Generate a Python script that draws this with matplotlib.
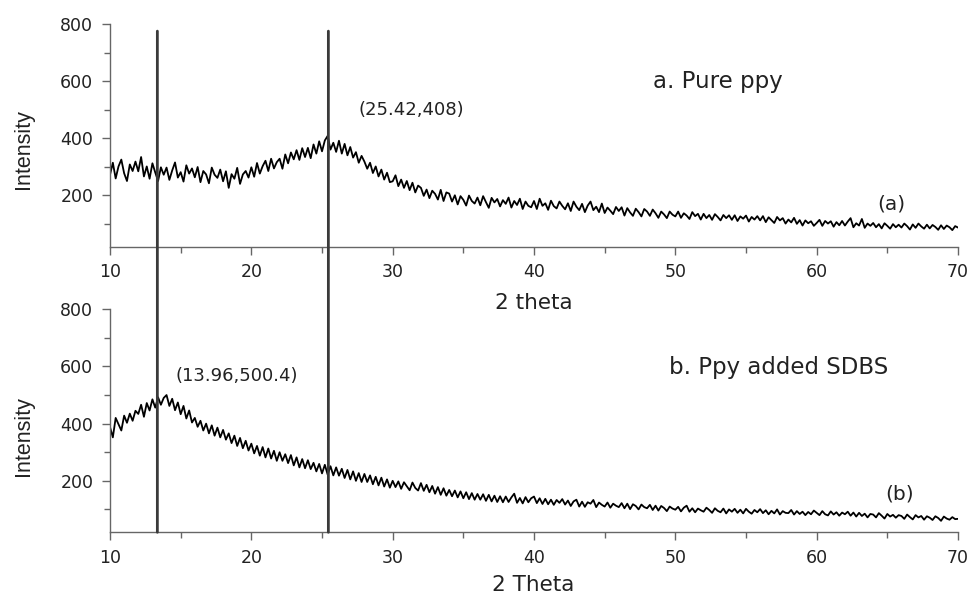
import numpy as np
import matplotlib
matplotlib.use("Agg")
import matplotlib.pyplot as plt
from matplotlib.patches import ConnectionPatch
from matplotlib.ticker import MultipleLocator

# 2-theta grid (0.2 deg steps from 10 to 70)
two_theta = np.linspace(10, 70, 301)

# (a) Pure ppy intensities
intensity_a = [
    272, 314, 259, 301, 325, 277, 250, 308, 285, 318,
    284, 334, 266, 301, 258, 312, 280, 250, 298, 272,
    297, 254, 287, 315, 262, 281, 248, 305, 276, 294,
    263, 299, 246, 285, 273, 242, 297, 272, 261, 290,
    249, 284, 226, 274, 258, 296, 240, 273, 285, 262,
    298, 265, 313, 276, 302, 321, 285, 328, 294, 316,
    328, 293, 343, 312, 350, 326, 358, 324, 365, 334,
    366, 330, 378, 346, 389, 354, 392, 408, 360, 384,
    352, 391, 346, 380, 340, 369, 332, 351, 314, 338,
    318, 293, 314, 278, 301, 266, 290, 255, 279, 246,
    249, 270, 232, 255, 226, 250, 218, 244, 210, 234,
    226, 198, 220, 190, 216, 205, 185, 219, 180, 210,
    206, 178, 200, 168, 197, 184, 164, 199, 180, 171,
    192, 165, 197, 176, 156, 191, 175, 187, 161, 183,
    170, 192, 157, 180, 166, 188, 152, 178, 163, 158,
    180, 152, 188, 163, 172, 149, 181, 162, 154, 178,
    163, 151, 172, 145, 178, 160, 148, 170, 141, 164,
    178, 148, 160, 141, 171, 138, 157, 146, 134, 159,
    145, 158, 129, 155, 140, 128, 153, 141, 126, 152,
    143, 128, 150, 137, 121, 143, 133, 120, 143, 132,
    126, 143, 121, 137, 129, 117, 141, 127, 135, 115,
    135, 120, 131, 114, 134, 124, 112, 131, 120, 130,
    114, 130, 110, 126, 118, 129, 108, 124, 115, 127,
    112, 127, 106, 123, 113, 103, 124, 112, 120, 101,
    115, 105, 121, 100, 113, 94, 112, 102, 109, 93,
    103, 114, 93, 110, 101, 109, 90, 106, 95, 110,
    94, 108, 120, 88, 102, 94, 117, 86, 101, 93,
    103, 88, 99, 84, 102, 93, 83, 99, 88, 97,
    87, 101, 92, 80, 98, 86, 101, 91, 83, 97,
    84, 96, 89, 79, 95, 82, 94, 88, 78, 92,
    87,
]

# (b) Ppy added SDBS intensities
intensity_b = [
    388, 352, 420, 398, 376, 428, 403, 435, 410, 445,
    434, 466, 424, 472, 446, 485, 456, 492, 466, 490,
    500, 462, 487, 447, 474, 433, 462, 418, 446, 404,
    420, 389, 410, 376, 400, 366, 394, 358, 386, 352,
    378, 344, 366, 332, 358, 322, 350, 314, 340, 306,
    330, 296, 322, 288, 318, 282, 313, 278, 305, 270,
    300, 270, 293, 262, 290, 254, 282, 247, 276, 244,
    272, 241, 263, 233, 259, 226, 256, 222, 251, 219,
    247, 218, 242, 210, 238, 205, 233, 200, 227, 196,
    224, 196, 219, 188, 214, 184, 211, 180, 205, 176,
    200, 178, 198, 172, 195, 181, 167, 194, 175, 166,
    192, 165, 186, 160, 182, 155, 178, 151, 174, 148,
    168, 146, 166, 142, 163, 139, 160, 136, 157, 134,
    154, 134, 153, 130, 151, 128, 148, 126, 146, 125,
    145, 126, 142, 155, 123, 140, 121, 143, 125, 139,
    145, 122, 139, 119, 137, 118, 134, 116, 133, 123,
    136, 117, 131, 112, 128, 134, 110, 127, 109, 125,
    120, 133, 108, 124, 116, 110, 124, 106, 120, 113,
    108, 122, 104, 120, 101, 118, 112, 100, 117, 108,
    104, 116, 98, 113, 96, 112, 105, 94, 110, 103,
    99, 109, 93, 106, 113, 92, 104, 90, 103, 97,
    92, 106, 98, 88, 104, 95, 90, 103, 86, 100,
    92, 102, 88, 99, 86, 102, 92, 85, 98, 90,
    101, 87, 97, 83, 95, 86, 100, 82, 94, 88,
    87, 98, 82, 94, 84, 92, 80, 91, 83, 96,
    88, 80, 94, 83, 79, 93, 82, 90, 78, 89,
    83, 92, 78, 89, 75, 88, 77, 85, 72, 84,
    82, 72, 87, 78, 68, 84, 75, 81, 71, 80,
    77, 67, 82, 73, 65, 80, 72, 77, 64, 76,
    71, 63, 76, 70, 60, 75, 68, 64, 73, 66,
    67,
]

# reference line positions (2 theta)
marker_positions = [13.35, 25.45]

x_ticks = [10, 20, 30, 40, 50, 60, 70]
y_ticks = [200, 400, 600, 800]

TEXT = "#222222"
SPINE = "#666666"

fig = plt.figure(figsize=(9.71, 5.98), dpi=100)
ax1 = fig.add_axes([0.1133, 0.5875, 0.8733, 0.3724])
ax2 = fig.add_axes([0.1133, 0.1099, 0.8733, 0.3729])

for ax, y in ((ax1, intensity_a), (ax2, intensity_b)):
    ax.plot(two_theta, y, color="black", lw=1.3)
    ax.set_xlim(10, 70)
    ax.set_ylim(20, 800)
    ax.set_xticks(x_ticks)
    ax.set_yticks(y_ticks)
    ax.xaxis.set_minor_locator(MultipleLocator(5))
    ax.yaxis.set_minor_locator(MultipleLocator(100))
    for s in ("top", "right"):
        ax.spines[s].set_visible(False)
    for s in ("left", "bottom"):
        ax.spines[s].set_color(SPINE)
        ax.spines[s].set_linewidth(1.0)
    ax.tick_params(which="major", direction="out", length=6, width=1.0,
                   color=SPINE, labelsize=12.5, labelcolor=TEXT, pad=6)
    ax.tick_params(which="minor", direction="out", length=4, width=1.0, color=SPINE)
    ax.set_facecolor("none")

# vertical marker lines spanning both panels
for xm in marker_positions:
    con = ConnectionPatch(xyA=(xm, 775), coordsA="data", axesA=ax1,
                          xyB=(xm, 20), coordsB="data", axesB=ax2,
                          color="#3a3a3a", lw=2.0)
    fig.add_artist(con)

# annotations
ax1.text(53.0, 597, "a. Pure ppy", ha="center", va="center", fontsize=16.5, color=TEXT)
ax1.text(31.3, 499, "(25.42,408)", ha="center", va="center", fontsize=13, color=TEXT)
ax1.text(65.3, 170, "(a)", ha="center", va="center", fontsize=14.5, color=TEXT)
ax2.text(57.3, 598, "b. Ppy added SDBS", ha="center", va="center", fontsize=16.5, color=TEXT)
ax2.text(19.0, 567, "(13.96,500.4)", ha="center", va="center", fontsize=13, color=TEXT)
ax2.text(65.9, 154, "(b)", ha="center", va="center", fontsize=14.5, color=TEXT)

fig.text(0.55, 0.4933, "2 theta", ha="center", va="center", fontsize=15.5, color=TEXT)
fig.text(0.549, 0.022, "2 Theta", ha="center", va="center", fontsize=15.5, color=TEXT)
fig.text(0.0247, 0.751, "Intensity", rotation=90, ha="center", va="center",
         fontsize=15.5, color=TEXT, family="Liberation Sans")
fig.text(0.0247, 0.271, "Intensity", rotation=90, ha="center", va="center",
         fontsize=15.5, color=TEXT, family="Liberation Sans")

fig.savefig("out.png", dpi=100, facecolor="white")
